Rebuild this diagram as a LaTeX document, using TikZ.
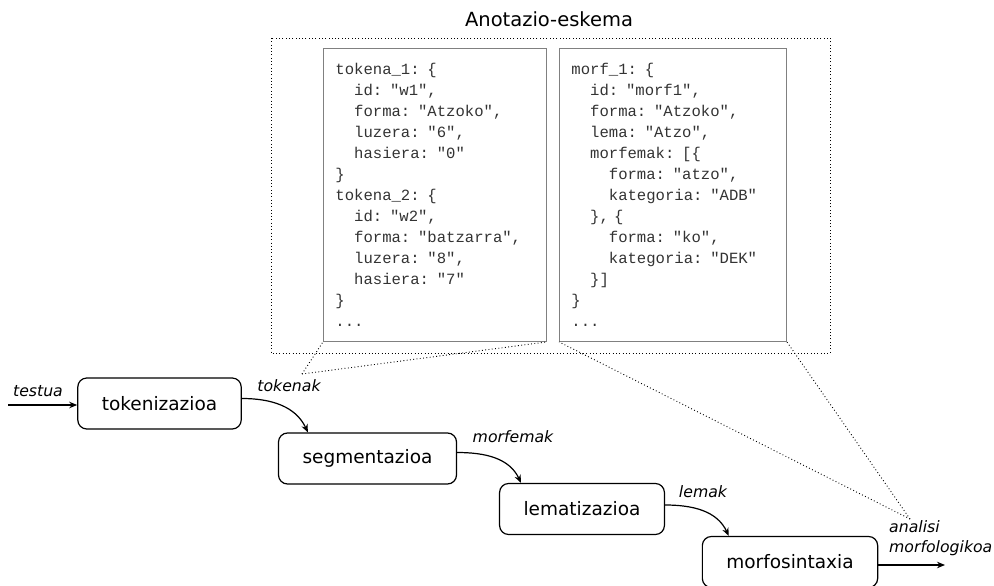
\documentclass[tikz,border=0pt]{standalone}
\usepackage{fontspec}
\setmainfont{DejaVu Sans}
\newfontfamily\codefont{Liberation Mono}
\usepackage{tikz}
\usetikzlibrary{arrows.meta}
\usetikzlibrary{positioning}
\tikzset{>=Stealth}
\newcommand{\indt}{\hspace*{1.2em}}

\tikzset{
  stage/.style={draw, rounded corners=9pt, line width=1.2pt, minimum height=51pt,
    inner xsep=24pt, font=\fontsize{18.5}{22}\selectfont},
  flow/.style={->, line width=1.2pt, >={Stealth[length=8pt,width=6.5pt]}},
  lbl/.style={inner sep=0pt, font=\fontsize{15.7}{20}\selectfont\itshape},
  codebox/.style={draw=black!50, line width=0.9pt, anchor=north west, inner sep=12pt,
    align=left, minimum height=293pt, text=black!80,
    font=\codefont\fontsize{15.6}{21}\selectfont},
  zoomline/.style={line width=0.9pt, dash pattern=on 0.9pt off 2.4pt},
}

\begin{document}
\begin{tikzpicture}[x=1pt,y=-1pt]
\useasboundingbox (0,0) rectangle (994,586);

% Annotation schema
\node[anchor=base, font=\fontsize{19.5}{22}\selectfont] (title) at (549,27) {Anotazio-eskema};
\draw[zoomline] (271,38) rectangle (830,353);

\node[codebox, text width=199pt] (tokbox) at (323,48) {%
tokena\_1: \{\\
\indt id: "w1",\\
\indt forma: "Atzoko",\\
\indt luzera: "6",\\
\indt hasiera: "0"\\
\}\\
tokena\_2: \{\\
\indt id: "w2",\\
\indt forma: "batzarra",\\
\indt luzera: "8",\\
\indt hasiera: "7"\\
\}\\
...};

\node[codebox, text width=203pt] (morfbox) at (559,48) {%
morf\_1: \{\\
\indt id: "morf1",\\
\indt forma: "Atzoko",\\
\indt lema: "Atzo",\\
\indt morfemak: [\{\\
\indt\indt forma: "atzo",\\
\indt\indt kategoria: "ADB"\\
\indt \}, \{\\
\indt\indt forma: "ko",\\
\indt\indt kategoria: "DEK"\\
\indt \}]\\
\}\\
...};

% Pipeline
\node[stage] (tok) at (159.5,403.5) {tokenizazioa};
\node[stage] (seg) at (367.5,458.5) {segmentazioa};
\node[stage] (lem) at (582,509) {lematizazioa};
\node[stage] (mfs) at (790,562) {morfosintaxia};

\coordinate (src) at (8,405);
\coordinate (dst) at (945,565);

\draw[flow] (src) -- (src -| tok.west);
\node[lbl] (testua) at (38,391) {testua};

\draw[flow] ([yshift=5pt]tok.east) to[out=0,in=115] ([xshift=30pt]seg.north west);
\node[lbl] (tokenak) at (289,386) {tokenak};

\draw[flow] ([yshift=6pt]seg.east) to[out=0,in=115] ([xshift=22pt]lem.north west);
\node[lbl] (morfemak) at (513,437) {morfemak};

\draw[flow] ([yshift=4pt]lem.east) to[out=0,in=115] ([xshift=27pt]mfs.north west);
\node[lbl] (lemak) at (703,492) {lemak};

\draw[flow] (mfs.east |- dst) -- (dst);
\node[lbl, align=left, anchor=west] (anl) at (889,538) {analisi\\morfologikoa};

% Zoom lines
\coordinate (ztok) at (302,374);
\coordinate (zanl) at (910,519);
\draw[zoomline] (ztok) -- (tokbox.south west);
\draw[zoomline] (ztok) -- (tokbox.south east);
\draw[zoomline] (zanl) -- (morfbox.south west);
\draw[zoomline] (zanl) -- (morfbox.south east);

\end{tikzpicture}
\end{document}
